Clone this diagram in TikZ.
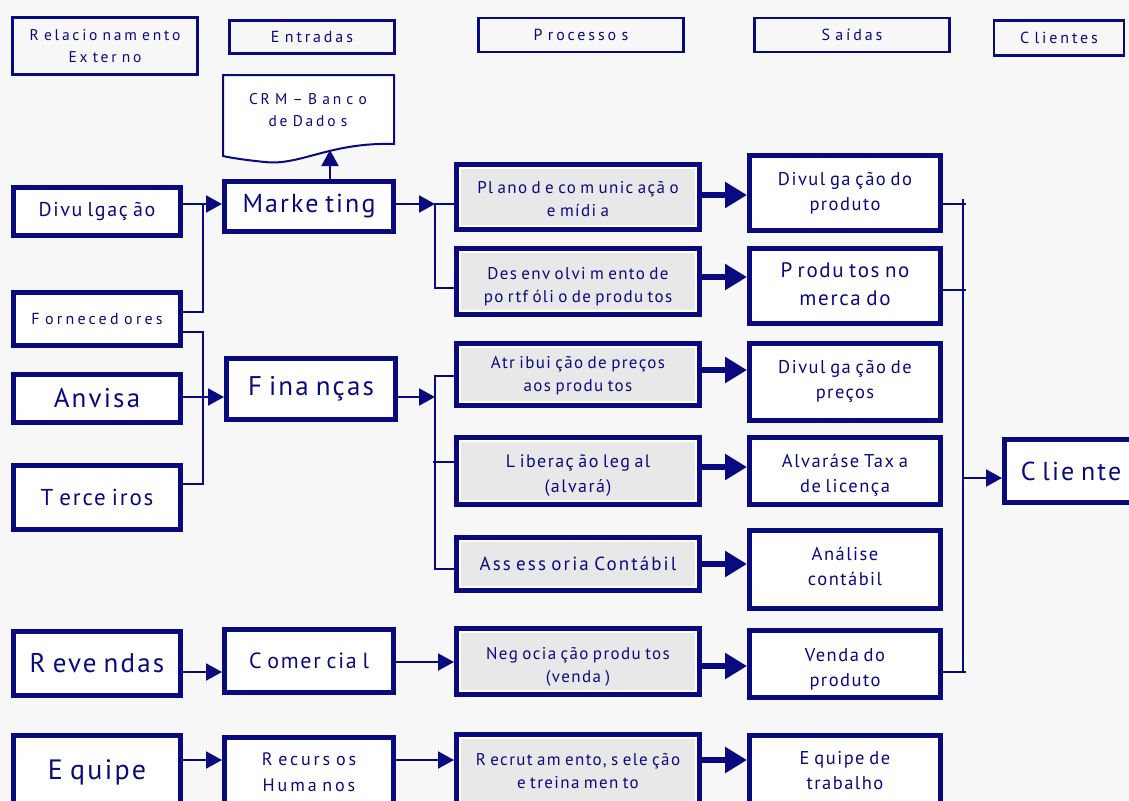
\documentclass[tikz,border=0pt]{standalone}
\usepackage{fontspec}
\setmainfont{PT Sans}[LetterSpace=8, WordSpace=0.75]
\usetikzlibrary{arrows.meta,calc}
\definecolor{navy}{RGB}{10,10,128}
\definecolor{bgc}{RGB}{247,247,247}
\definecolor{pgray}{RGB}{232,232,232}
\newcommand{\fs}[2]{\fontsize{#1}{#2}\selectfont}
\newcommand{\wide}[1]{\addfontfeatures{LetterSpace=#1}}
\newcommand{\tx}[2][0]{\raisebox{-#1pt}[\height][\depth]{\begin{tabular}{@{}c@{}}#2\end{tabular}}}
\tikzset{
  hdr/.style={draw=navy, line width=2.5pt, text=navy, align=center, inner sep=0pt},
  lbox/.style={draw=navy, line width=5pt, fill=white, text=navy, align=center, inner sep=0pt},
  pbox/.style={lbox, fill=pgray, path picture={
      \draw[white, line width=2pt]
        ([shift={(3.5pt,-3.5pt)}]path picture bounding box.north west) rectangle
        ([shift={(-3.5pt,3.5pt)}]path picture bounding box.south east);}},
  conn/.style={draw=navy, line width=2pt},
  arr/.style={conn, -{Triangle[length=16pt,width=17pt]}},
  tarr/.style={draw=navy, line width=6pt, -{Triangle[length=22pt,width=25pt]}}
}
\begin{document}
\begin{tikzpicture}[x=1pt,y=-1pt]
\useasboundingbox (0,0) rectangle (1129,800);
\clip (0,0) rectangle (1129,800);
\fill[bgc] (0,0) rectangle (1129,800);

% headers
\node[hdr, minimum width=185pt, minimum height=57pt, font={\fs{15.5}{22}\wide{18}}] (rel) at (105,46) {\tx[1]{R elacio nam ento\\Ex ter no}};
\node[hdr, minimum width=165pt, minimum height=33pt, font={\fs{16}{18}\wide{18}}] (ent) at (312,37) {E ntradas};
\node[hdr, minimum width=205pt, minimum height=34pt, font={\fs{16}{18}\wide{18}}] (proc) at (581,35) {P rocesso s};
\node[hdr, minimum width=195pt, minimum height=34pt, font={\fs{16}{18}\wide{18}}] (sai) at (852,35) {S aídas};
\node[hdr, minimum width=130pt, minimum height=35pt, font={\fs{16}{18}\wide{18}}] (cli) at (1059,38) {C lientes};

% CRM document
\draw[navy, line width=2pt, fill=white] (223,75) -- (394,75) -- (394,144)
  .. controls (330,142) and (300,166) .. (265,162)
  .. controls (245,160) and (232,158) .. (223,156) -- cycle;
\node[text=navy, align=center, inner sep=0pt, font={\fs{15.5}{22}\wide{18}}] (crm) at (308,110) {CR M – B an c o\\de Dado s};
\coordinate (crmb) at (330,150);

% left column
\node[lbox, minimum width=167pt, minimum height=48pt, font=\fs{20}{24}] (divulg) at (97,211.5) {Divu lgaç ão};
\node[lbox, minimum width=167pt, minimum height=53pt, font={\fs{16}{20}\wide{20}}] (forn) at (97,319) {F orneced ores};
\node[lbox, minimum width=167pt, minimum height=48pt, font=\fs{27}{30}] (anv) at (97,398.5) {Anvisa};
\node[lbox, minimum width=167pt, minimum height=64pt, font=\fs{23}{26}] (terc) at (97,497.5) {T erce iros};
\node[lbox, minimum width=167pt, minimum height=64pt, font=\fs{27}{30}] (rev) at (97,663.5) {R eve ndas};
\node[lbox, minimum width=167pt, minimum height=74pt, font=\fs{28}{32}] (equ) at (97,772) {\raisebox{4pt}{E quipe}};

% second column
\node[lbox, minimum width=169pt, minimum height=50pt, font=\fs{26}{30}] (mkt) at (309,206.5) {Marke ting};
\node[lbox, minimum width=169pt, minimum height=61pt, font=\fs{27}{30}] (fin) at (311,389) {F ina nças};
\node[lbox, minimum width=169pt, minimum height=63pt, font=\fs{22}{26}] (com) at (309,661) {C omer cia l};
\node[lbox, minimum width=169pt, minimum height=72pt, font={\fs{18}{26}\wide{16}}] (rh) at (309,773) {\tx{R ecurs os\\Huma nos}};

% processes
\node[pbox, minimum width=243pt, minimum height=65pt, font=\fs{17}{23}] (plano) at (578,197) {\tx[3.5]{Pl ano d e co m unic açã o\\e mídi a}};
\node[pbox, minimum width=243pt, minimum height=66pt, font=\fs{17}{23}] (desen) at (578,281.5) {\tx[4.5]{Des env olvi m ento de\\po rtf óli o de produ tos}};
\node[pbox, minimum width=243pt, minimum height=62pt, font=\fs{17}{23}] (atr) at (578,374.5) {\tx[1]{Atr ibui ção de preços\\aos produ tos}};
\node[pbox, minimum width=243pt, minimum height=67pt, font=\fs{18}{25}] (lib) at (578,471) {\tx[3.5]{L iberaç ão leg al\\(alvará)}};
\node[pbox, minimum width=243pt, minimum height=53pt, font={\fs{19}{24}\wide{11}}] (ass) at (578,564) {Ass ess oria Contábil};
\node[pbox, minimum width=243pt, minimum height=66pt, font=\fs{17}{23}] (neg) at (578,661.5) {\tx[5]{Neg ocia ção produ tos\\(venda )}};
\node[pbox, minimum width=243pt, minimum height=75pt, font=\fs{17}{23}] (rec) at (578,772) {\tx{R ecrut am ento, s ele ção\\e treina men to}};

% outputs
\node[lbox, minimum width=191pt, minimum height=75pt, font=\fs{18.5}{25}] (o1) at (845,193) {\tx{Divul ga ção do\\produto}};
\node[lbox, minimum width=191pt, minimum height=75pt, font=\fs{21}{28}] (o2) at (845,286) {\tx{P rodu tos no\\merca do}};
\node[lbox, minimum width=191pt, minimum height=77pt, font=\fs{18.5}{25}] (o3) at (845,382) {\tx[-1]{Divul ga ção de\\preços}};
\node[lbox, minimum width=191pt, minimum height=67pt, font=\fs{18.5}{25}] (o4) at (845,471) {\tx[4]{Alvaráse Tax a\\de licença}};
\node[lbox, minimum width=191pt, minimum height=78pt, font=\fs{18.5}{25}] (o5) at (845,569) {\tx[-1.5]{Análise\\contábil}};
\node[lbox, minimum width=191pt, minimum height=67pt, font=\fs{18.5}{25}] (o6) at (845,664) {\tx[5]{Venda do\\produto}};
\node[lbox, minimum width=191pt, minimum height=74pt, font=\fs{18.5}{25}] (o7) at (845,772) {\tx{E quipe de\\trabalho}};

% client
\node[lbox, minimum width=133pt, minimum height=63pt, font=\fs{26}{30}] (cliente) at (1071,471) {C lie nte};

% CRM arrow
\draw[arr] ($(mkt.north)+(21,0)$) -- (crmb);

% inputs to Marketing
\coordinate (jm) at (203,204);
\draw[arr] (divulg.east |- jm) -- (mkt.west |- jm);
\draw[conn] ($(forn.east)+(0,-7)$) -| (jm);
% inputs to Financas
\coordinate (jf) at (203,397);
\draw[arr] (anv.east |- jf) -- (fin.west |- jf);
\draw[conn] ($(forn.east)+(0,13)$) -| (jf) |- ($(terc.east)+(0,-14)$);

% Marketing outputs
\coordinate (bm) at (435,204);
\draw[arr] (mkt.east |- bm) -- (bm);
\draw[conn] (plano.west |- bm) -- (bm) |- ($(desen.west)+(0,6.5)$);
% Financas outputs
\coordinate (bf) at (435,397);
\draw[arr] ($(fin.east)+(0,8)$) -- (bf);
\draw[conn] ($(atr.west)+(0,1.5)$) -| (bf) |- ($(ass.west)+(0,5)$);
\draw[conn] ($(lib.west)+(0,-9)$) -- ++(-21.5,0);

% processes to outputs
\foreach \p/\o/\d in {plano/o1/-2, desen/o2/-4.5, atr/o3/-4.5, lib/o4/-4, ass/o5/0, neg/o6/4.5, rec/o7/-12}
  \draw[tarr] ($(\p.east)+(0,\d)$) -- ($(\p.east -| \o.west)+(0,\d)$);

% rows Comercial / RH
\draw[arr] ($(rev.east)+(0,8.5)$) -- ($(com.west)+(0,11)$);
\draw[arr] ($(com.east)+(0,1)$) -- ($(neg.west)+(0,0.5)$);
\draw[arr] ($(equ.east)+(0,-12)$) -- ($(rh.west)+(0,-13)$);
\draw[arr] ($(rh.east)+(0,-13)$) -- ($(rec.west)+(0,-12)$);

% right bus to client
\coordinate (bt) at (963,199);
\coordinate (bb) at (963,672);
\coordinate (bc) at (963,478);
\draw[conn] (bt) -- (bb);
\draw[conn] ($(o1.east)+(0,11)$) -- ++(22.5,0);
\draw[conn] ($(o2.east)+(0,4)$) -- ++(22.5,0);
\draw[conn] ($(o6.east)+(0,8)$) -- ++(22.5,0);
\draw[arr] (bc) -- (bc -| cliente.west);
\end{tikzpicture}
\end{document}
